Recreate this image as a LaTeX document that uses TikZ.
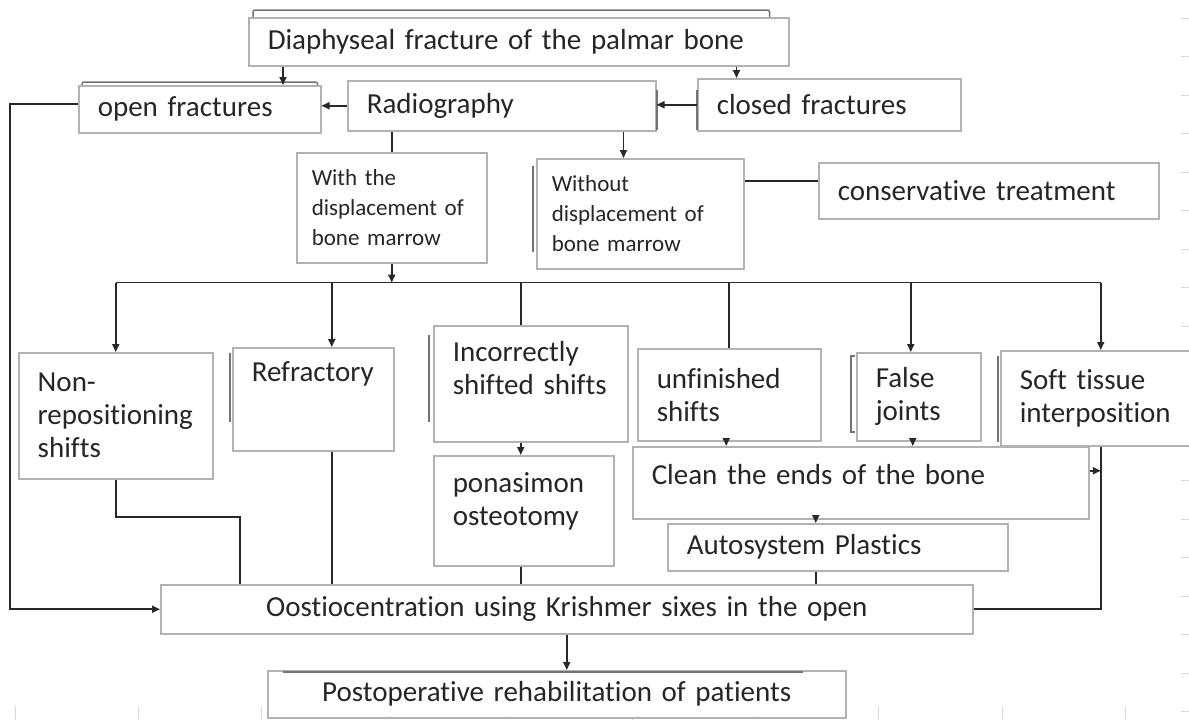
\documentclass[tikz,border=0pt]{standalone}
\usepackage{fontspec}
\setmainfont{Carlito}[WordSpace=0.7, Ligatures=NoCommon]
\usetikzlibrary{positioning, arrows.meta, calc}
\definecolor{boxgray}{RGB}{178,178,178}
\definecolor{linegray}{RGB}{40,40,40}
\definecolor{textgray}{RGB}{38,38,38}

\begin{document}
\begin{tikzpicture}[x=1pt, y=-1pt, >={Triangle[length=8pt,width=7pt]},
    every node/.style={font=\fontsize{29}{33}\selectfont, text=textgray},
    box/.style={draw=boxgray, line width=1.5pt, fill=white, rectangle, anchor=north west, inner xsep=19pt, align=left},
    small/.style={font=\fontsize{23}{30}\selectfont, inner xsep=15pt},
    link/.style={draw=linegray, line width=1.8pt},
    bar/.style={draw=black!55, line width=2pt},
    tick/.style={draw=black!15, line width=1pt}]

    \useasboundingbox (0,0) rectangle (1189,720);

    % faint sheet grid marks
    \foreach \k in {0,...,18} \draw[tick] (1181,{18+38.55*\k}) -- (1189,{18+38.55*\k});
    \foreach \k in {0,...,9} \draw[tick] ({15+123.4*\k},706) -- ({15+123.4*\k},720);

    % boxes
    \node[box, text width=502pt, minimum height=48pt] (diaph) at (248,17) {Diaphyseal fracture of the palmar bone};
    \node[box, text width=204pt, minimum height=47pt] (openf) at (78,85) {open fractures};
    \node[box, text width=270pt, minimum height=50pt] (radio) at (347,80) {Radiography};
    \node[box, text width=225pt, minimum height=52pt] (closedf) at (697,78) {closed fractures};
    \node[box, small, text width=160pt, minimum height=110pt] (withd) at (296,152) {With the\\displacement of\\bone marrow};
    \node[box, small, text width=177pt, minimum height=110pt] (withoutd) at (536,158) {Without\\displacement of\\bone marrow};
    \node[box, text width=302pt, minimum height=56pt] (conserv) at (818,162) {conservative treatment};

    \node[box, text width=156pt, minimum height=126pt] (nonrep) at (18,352) {Non-\\repositioning\\shifts};
    \node[box, text width=123pt, inner ysep=14pt, text height=20pt, text depth=55pt] (refract) at (232,347) {Refractory};
    \node[box, text width=156pt, inner ysep=16pt, text height=20pt, text depth=64pt] (incorr) at (433,325) {Incorrectly\\shifted shifts};
    \node[box, text width=142pt, inner ysep=17pt, text height=20pt, text depth=56pt] (ponas) at (433,455) {ponasimon\\osteotomy};
    \node[box, text width=145pt, minimum height=92pt] (unfin) at (637,348) {unfinished\\shifts};
    \node[box, text width=86pt, minimum height=88pt] (falsej) at (856,352) {False\\joints};
    \node[box, text width=157pt, minimum height=95pt] (softt) at (1000,350) {Soft tissue\\interposition};
    \node[box, text width=418pt, inner ysep=18pt, text height=20pt, text depth=16pt] (clean) at (632,446) {Clean the ends of the bone};
    \node[box, text width=302pt, minimum height=47pt] (autos) at (667,523) {Autosystem Plastics};

    \node[box, align=center, text width=774pt, minimum height=49pt] (osteo) at (160,584) {Oostiocentration using Krishmer sixes in the open};
    \node[box, align=center, text width=540pt, minimum height=47pt] (postop) at (267,670) {Postoperative rehabilitation of patients};

    % dark edges of the boxes behind
    \draw[bar, line width=1.5pt, rounded corners=2pt] ([xshift=5pt]diaph.north west) -- ([xshift=5pt,yshift=7pt]diaph.north west) -- ([xshift=-20pt,yshift=7pt]diaph.north east) -- ([xshift=-20pt]diaph.north east);
    \draw[bar, line width=1.5pt, rounded corners=2pt] ([xshift=4pt]openf.north west) -- ([xshift=4pt,yshift=3pt]openf.north west) -- ([xshift=-4pt,yshift=3pt]openf.north east) -- ([xshift=-4pt]openf.north east);
    \draw[bar, line width=1.5pt] ([xshift=16pt,yshift=-2pt]postop.north west) -- ([xshift=-44pt,yshift=-2pt]postop.north east);
    \draw[bar] ([yshift=-10pt]radio.north east) -- ([yshift=2pt]radio.south east);
    \draw[bar] ([yshift=-12pt]closedf.north west) -- ([yshift=2pt]closedf.south west);
    \draw[bar] ([xshift=-3pt,yshift=-8pt]withoutd.north west) -- ([xshift=-3pt,yshift=18pt]withoutd.south west);
    \draw[bar] ([xshift=-2pt,yshift=-6pt]refract.north west) -- ([xshift=-2pt,yshift=30pt]refract.south west);
    \draw[bar] ([xshift=-4pt,yshift=-10pt]incorr.north west) -- ([xshift=-4pt,yshift=21pt]incorr.south west);
    \draw[bar] ([xshift=-1pt,yshift=-4pt]falsej.north west) -| ([xshift=-5pt,yshift=10pt]falsej.south west) -- ([xshift=-1pt,yshift=10pt]falsej.south west);
    \draw[bar] ([xshift=-2pt,yshift=-6pt]softt.north west) -- ([xshift=-2pt,yshift=5pt]softt.south west);

    % connectors
    \draw[link, ->] ([xshift=35pt]diaph.south west) -- ([xshift=35pt]diaph.south west |- openf.north);
    \draw[link, ->] ([xshift=-53pt]diaph.south east) -- ([xshift=-53pt]diaph.south east |- closedf.north);
    \draw[link, ->] (radio.west) -- (openf.east |- radio.west);
    \draw[link, ->] (closedf.west) -- (radio.east |- closedf.west);
    \draw[link] (radio.south -| withd.north) -- (withd.north);
    \draw[link, ->] ([xshift=-33pt]radio.south east) -- ([xshift=-33pt]radio.south east |- withoutd.north);
    \draw[link] ([yshift=10pt]conserv.west) -- ([yshift=10pt]conserv.west -| withoutd.east);

    \coordinate (bus) at ([yshift=-19pt]withd.south);
    \draw[link, ->] (withd.south) -- (bus);
    \draw[link] (nonrep.north |- bus) -- ([xshift=2.5pt]softt.north |- bus);
    \foreach \n/\dx/\tip in {nonrep/0/->, refract/18.5/->, incorr/-10/-, unfin/0/-, falsej/-8/->, softt/2.5/->}
        \draw[link, \tip] ([xshift=\dx pt]\n.north |- bus) -- ([xshift=\dx pt]\n.north);

    \draw[link, ->] ([xshift=-10pt]incorr.south) -- ([xshift=-10pt]incorr.south |- ponas.north);
    \draw[link, ->] ([xshift=-3pt]unfin.south) -- ([xshift=-3pt]unfin.south |- clean.north);
    \draw[link, ->] ([xshift=-6pt]falsej.south) -- ([xshift=-6pt]falsej.south |- clean.north);
    \coordinate (sdrop) at ([xshift=2.5pt]softt.south);
    \draw[link] (sdrop) |- (osteo.east);
    \draw[link, ->] ([yshift=12pt]clean.east) -- ([yshift=12pt]clean.east -| sdrop);
    \draw[link, ->] ([xshift=-22pt]autos.north |- clean.south) -- ([xshift=-22pt]autos.north);
    \draw[link] ([xshift=-22pt]autos.south) -- ([xshift=-22pt]autos.south |- osteo.north);
    \draw[link] ([xshift=-3pt]ponas.south) -- ([xshift=-3pt]ponas.south |- osteo.north);
    \draw[link] ([xshift=18.5pt]refract.south) -- ([xshift=18.5pt]refract.south |- osteo.north);
    \draw[link] (nonrep.south) |- ([xshift=80pt,yshift=67pt]osteo.north west) -- ([xshift=80pt]osteo.north west);
    \draw[link, ->] ([yshift=5pt]openf.west) -| ([xshift=-150pt]osteo.west) -- (osteo.west);
    \draw[link, ->] (osteo.south) -- (osteo.south |- postop.north);
\end{tikzpicture}
\end{document}
